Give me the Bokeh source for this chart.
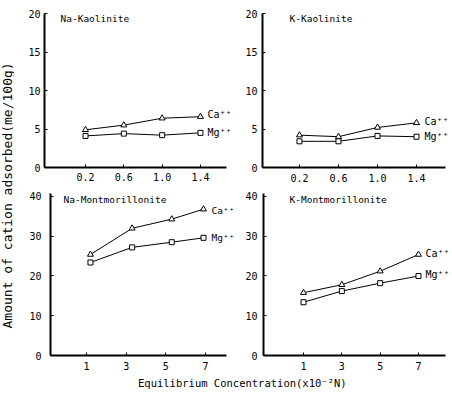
from math import pi
from bokeh.plotting import figure
from bokeh.layouts import row, column
from bokeh.models import Range1d, FixedTicker, Label, ColumnDataSource
from bokeh.embed import file_html
from bokeh.resources import INLINE

FONT = "DejaVu Sans Mono"

# ---- tick definitions ----
kao_x_ticks = [0.2, 0.6, 1.0, 1.4]
kao_x_labels = ["0.2", "0.6", "1.0", "1.4"]
mont_x_ticks = [1, 3, 5, 7]
mont_x_labels = ["1", "3", "5", "7"]
kao_y_ticks = [0, 5, 10, 15, 20]
mont_y_ticks = [0, 10, 20, 30, 40]

# ---- data (me/100g) ----
na_kao_x = [0.2, 0.6, 1.0, 1.4]
na_kao_ca = [4.9, 5.5, 6.4, 6.6]
na_kao_mg = [4.1, 4.4, 4.2, 4.5]

k_kao_x = [0.2, 0.6, 1.0, 1.4]
k_kao_ca = [4.2, 4.0, 5.2, 5.8]
k_kao_mg = [3.4, 3.4, 4.1, 4.0]

na_mont_x = [1.2, 3.3, 5.3, 6.9]
na_mont_ca = [25.4, 32.0, 34.3, 36.8]
na_mont_mg = [23.4, 27.2, 28.5, 29.6]

k_mont_x = [1, 3, 5, 7]
k_mont_ca = [15.8, 17.8, 21.2, 25.4]
k_mont_mg = [13.4, 16.2, 18.2, 20.0]

titles = ["Na-Kaolinite", "K-Kaolinite", "Na-Montmorillonite", "K-Montmorillonite"]
series_names = ["Ca\u207a\u207a", "Mg\u207a\u207a"]
y_title = "Amount of cation adsorbed(me/100g)"
x_title = "Equilibrium Concentration(x10\u207b\u00b2N)"


def panel(title, xs, ca, mg, xr, axis_end, yr, xticks, xlabels, yticks,
          w, h, bl, bt, bb, ystand, xstand, toff, ca_off, mg_off, lab_size="10px"):
    p = figure(width=w, height=h, x_range=Range1d(*xr), y_range=Range1d(*yr),
               output_backend="svg", toolbar_location=None,
               min_border_left=bl, min_border_right=0,
               min_border_top=bt, min_border_bottom=bb)
    p.grid.visible = False
    p.outline_line_color = None
    p.background_fill_color = "white"
    p.border_fill_color = "white"
    p.xaxis.ticker = FixedTicker(ticks=xticks)
    p.xaxis.major_label_overrides = {t: l for t, l in zip(xticks, xlabels)}
    p.xaxis.bounds = (xr[0], axis_end)
    p.yaxis.ticker = FixedTicker(ticks=yticks)
    p.axis.axis_line_width = 2
    p.axis.axis_line_color = "black"
    p.axis.major_tick_in = 3
    p.axis.major_tick_out = 0
    p.axis.major_tick_line_color = "black"
    p.axis.minor_tick_line_color = None
    p.axis.major_label_text_font = FONT
    p.axis.major_label_text_font_size = "10px"
    p.axis.major_label_text_color = "black"
    p.yaxis.major_label_standoff = ystand
    p.xaxis.major_label_standoff = xstand

    src = ColumnDataSource(dict(x=xs, ca=ca, mg=mg))
    p.line("x", "ca", source=src, line_color="black", line_width=1)
    p.line("x", "mg", source=src, line_color="black", line_width=1)
    p.scatter("x", "ca", source=src, marker="triangle", size=6,
              fill_color="white", line_color="black", line_width=1)
    p.scatter("x", "mg", source=src, marker="square", size=5,
              fill_color="white", line_color="black", line_width=1)

    p.add_layout(Label(x=xr[0], y=yr[1], x_offset=toff[0], y_offset=toff[1],
                       text=title, text_baseline="top", text_align="left",
                       text_font=FONT, text_font_size="9.5px", text_color="black"))
    p.add_layout(Label(x=xs[-1], y=ca[-1], x_offset=ca_off[0], y_offset=ca_off[1],
                       text=series_names[0], text_baseline="middle",
                       text_font=FONT, text_font_size=lab_size, text_color="black"))
    p.add_layout(Label(x=xs[-1], y=mg[-1], x_offset=mg_off[0], y_offset=mg_off[1],
                       text=series_names[1], text_baseline="middle",
                       text_font=FONT, text_font_size=lab_size, text_color="black"))
    return p


p1 = panel(titles[0], na_kao_x, na_kao_ca, na_kao_mg, (-0.228, 1.797), 1.671, (0, 20),
           kao_x_ticks, kao_x_labels, kao_y_ticks,
           224, 190, 30, 13, 23, 4, 5, (16, 1), (7, 2), (7, 0))
p2 = panel(titles[1], k_kao_x, k_kao_ca, k_kao_mg, (-0.179, 1.769), 1.697, (0, 20),
           kao_x_ticks, kao_x_labels, kao_y_ticks,
           214, 190, 24, 13, 23, 5, 6, (27, 1), (8, 1), (8, 0))
p3 = panel(titles[2], na_mont_x, na_mont_ca, na_mont_mg, (-0.815, 8.664), 8.06, (0, 40.75),
           mont_x_ticks, mont_x_labels, mont_y_ticks,
           224, 187, 36, 3, 22, 9, 6, (13, 0), (8, -1), (8, 0), "9.5px")
p4 = panel(titles[3], k_mont_x, k_mont_ca, k_mont_mg, (-1.087, 8.774), 8.408, (0, 40.75),
           mont_x_ticks, mont_x_labels, mont_y_ticks,
           214, 187, 25, 3, 22, 6, 6, (26, 0), (7, 1), (7, 1))


def blank(w, h):
    f = figure(width=w, height=h, x_range=Range1d(0, 1), y_range=Range1d(0, 1),
               output_backend="svg", toolbar_location=None, min_border=0)
    f.axis.visible = False
    f.grid.visible = False
    f.outline_line_color = None
    return f


ylab = blank(14, 377)
ylab.add_layout(Label(x=0.5, y=0.483, text=y_title, angle=pi / 2,
                      text_align="center", text_baseline="middle",
                      text_font=FONT, text_font_size="13px", text_color="black"))

xlab = blank(452, 18)
xlab.add_layout(Label(x=0.535, y=0.667, text=x_title,
                      text_align="center", text_baseline="middle",
                      text_font=FONT, text_font_size="10.5px", text_color="black"))

layout = column(row(ylab, column(row(p1, p2), row(p3, p4))), xlab)

open("out.html", "w").write(file_html(layout, INLINE))
